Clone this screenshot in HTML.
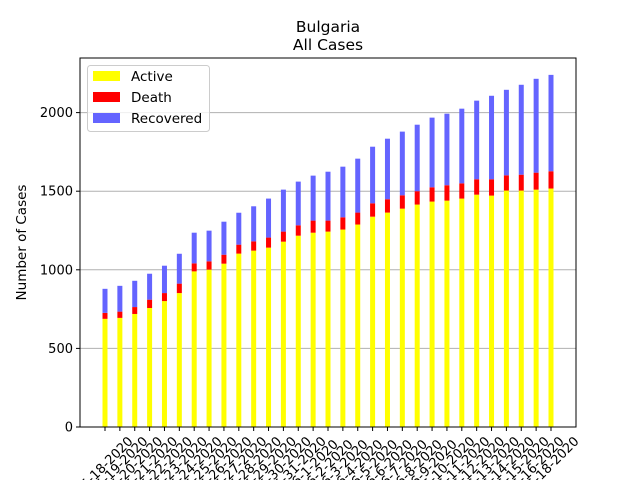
<!DOCTYPE html>
<html><head><meta charset="utf-8"><style>
body{margin:0;background:#fff;}
svg{display:block;font-family:"DejaVu Sans","Liberation Sans",sans-serif;}
</style></head><body>
<svg id="chart" width="640" height="480">
<rect x="0" y="0" width="640" height="480" fill="#fff"/>
<text x="328" y="32" font-size="15.5" text-anchor="middle">Bulgaria</text>
<text x="328" y="50" font-size="15.5" text-anchor="middle">All Cases</text>
<g id="grid"></g>
<g id="bars"></g>
<g id="axes"></g>
<text transform="translate(26,242.5) rotate(-90)" font-size="13.5" text-anchor="middle">Number of Cases</text>
<g>
<rect x="87.5" y="65.5" width="122" height="66" rx="3" fill="#fff" fill-opacity="0.8" stroke="#ccc"/>
<rect x="93" y="71" width="27" height="10" fill="#ffff00"/>
<text x="131" y="81" font-size="13.5">Active</text>
<rect x="93" y="92" width="27" height="10" fill="#ff0000"/>
<text x="131" y="102" font-size="13.5">Death</text>
<rect x="93" y="113" width="27" height="10" fill="#6464ff"/>
<text x="131" y="123" font-size="13.5">Recovered</text>
</g>
</svg>
<script>
const dates = ["5-18-2020","5-19-2020","5-20-2020","5-21-2020","5-22-2020","5-23-2020","5-24-2020","5-25-2020","5-26-2020","5-27-2020","5-28-2020","5-29-2020","5-30-2020","5-31-2020","6-1-2020","6-2-2020","6-3-2020","6-4-2020","6-5-2020","6-6-2020","6-7-2020","6-8-2020","6-9-2020","6-10-2020","6-11-2020","6-12-2020","6-13-2020","6-14-2020","6-15-2020","6-16-2020","6-18-2020"];
const active = [688,694,719,757,801,852,990,1001,1039,1103,1122,1141,1179,1217,1236,1243,1256,1288,1338,1364,1389,1415,1434,1440,1453,1478,1472,1504,1504,1510,1517];
const death = [38,40,44,53,51,60,51,53,57,57,59,64,64,66,77,70,78,76,85,85,85,85,91,98,97,98,104,97,101,108,110];
const recovered = [153,164,167,165,174,190,195,195,210,203,223,248,267,278,286,311,322,343,360,385,405,423,443,455,475,500,531,544,572,597,613];
const yTicks = [0,500,1000,1500,2000];

const NS="http://www.w3.org/2000/svg";
const L=80,R=576,T=58,B=427;
const yMax=(B-T)/0.1572;
function y(v){return B-v*(B-T)/yMax;}
function x(i){return 105+i*(551-105)/(dates.length-1);}
const bw=5;
function mk(tag,attrs,parent){const e=document.createElementNS(NS,tag);for(const k in attrs)e.setAttribute(k,attrs[k]);parent.appendChild(e);return e;}
const grid=document.getElementById('grid'),bars=document.getElementById('bars'),axes=document.getElementById('axes');
yTicks.forEach(t=>{
  if(t>0){const g=mk('line',{x1:L,x2:R,y1:y(t),y2:y(t),stroke:'#b0b0b0','stroke-width':1},grid);
  
  }
  const tk=mk('line',{x1:L-4,x2:L,y1:y(t),y2:y(t),stroke:'#000'},axes);
  
  
  const tx=mk('text',{x:L-7,y:y(t)+4.5,'font-size':13,'text-anchor':'end'},axes);
  tx.textContent=t;
  
  
});
dates.forEach((d,i)=>{
  const cx=x(i);
  const a=mk('rect',{x:cx-bw/2,y:y(active[i]),width:bw,height:y(0)-y(active[i]),fill:'#ffff00'},bars);
  
  
  const s1=active[i]+death[i];
  const dd=mk('rect',{x:cx-bw/2,y:y(s1),width:bw,height:y(active[i])-y(s1),fill:'#ff0000'},bars);
  
  
  const s2=s1+recovered[i];
  const r=mk('rect',{x:cx-bw/2,y:y(s2),width:bw,height:y(s1)-y(s2),fill:'#6464ff'},bars);
  
  
  const tk=mk('line',{x1:cx,x2:cx,y1:B,y2:B+4,stroke:'#000'},axes);
  
  
  const tx=mk('text',{x:cx+2,y:467,'font-size':13,'text-anchor':'middle',transform:'rotate(-45 '+(cx+2)+' 463)'},axes);
  tx.textContent=d;
  
  
});
const fr=mk('rect',{x:L,y:T,width:R-L,height:B-T,fill:'none',stroke:'#000','stroke-width':1},axes);


</script>
</body></html>
